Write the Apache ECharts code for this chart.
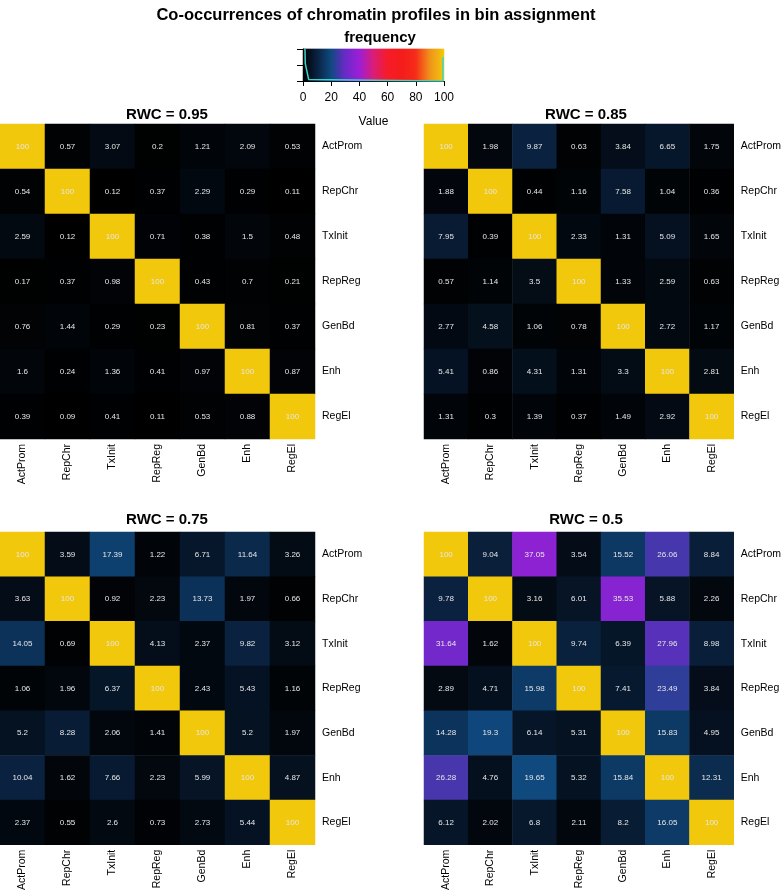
<!DOCTYPE html>
<html>
<head>
<meta charset="utf-8">
<script src="https://cdn.jsdelivr.net/npm/echarts@6/dist/echarts.min.js"></script>
<style>html,body{margin:0;padding:0;background:#fff}#c{width:784px;height:893px}</style>
</head>
<body>
<div id="c"></div>
<script>
const profiles = ['ActProm','RepChr','TxInit','RepReg','GenBd','Enh','RegEl'];
const panelTitles = ['RWC = 0.95','RWC = 0.85','RWC = 0.75','RWC = 0.5'];
const rwc095 = [
  [100, 0.57, 3.07, 0.2, 1.21, 2.09, 0.53],
  [0.54, 100, 0.12, 0.37, 2.29, 0.29, 0.11],
  [2.59, 0.12, 100, 0.71, 0.38, 1.5, 0.48],
  [0.17, 0.37, 0.98, 100, 0.43, 0.7, 0.21],
  [0.76, 1.44, 0.29, 0.23, 100, 0.81, 0.37],
  [1.6, 0.24, 1.36, 0.41, 0.97, 100, 0.87],
  [0.39, 0.09, 0.41, 0.11, 0.53, 0.88, 100]
];
const rwc085 = [
  [100, 1.98, 9.87, 0.63, 3.84, 6.65, 1.75],
  [1.88, 100, 0.44, 1.16, 7.58, 1.04, 0.36],
  [7.95, 0.39, 100, 2.33, 1.31, 5.09, 1.65],
  [0.57, 1.14, 3.5, 100, 1.33, 2.59, 0.63],
  [2.77, 4.58, 1.06, 0.78, 100, 2.72, 1.17],
  [5.41, 0.86, 4.31, 1.31, 3.3, 100, 2.81],
  [1.31, 0.3, 1.39, 0.37, 1.49, 2.92, 100]
];
const rwc075 = [
  [100, 3.59, 17.39, 1.22, 6.71, 11.64, 3.26],
  [3.63, 100, 0.92, 2.23, 13.73, 1.97, 0.66],
  [14.05, 0.69, 100, 4.13, 2.37, 9.82, 3.12],
  [1.06, 1.96, 6.37, 100, 2.43, 5.43, 1.16],
  [5.2, 8.28, 2.06, 1.41, 100, 5.2, 1.97],
  [10.04, 1.62, 7.66, 2.23, 5.99, 100, 4.87],
  [2.37, 0.55, 2.6, 0.73, 2.73, 5.44, 100]
];
const rwc050 = [
  [100, 9.04, 37.05, 3.54, 15.52, 26.06, 8.84],
  [9.78, 100, 3.16, 6.01, 35.53, 5.88, 2.26],
  [31.64, 1.62, 100, 9.74, 6.39, 27.96, 8.98],
  [2.89, 4.71, 15.98, 100, 7.41, 23.49, 3.84],
  [14.28, 19.3, 6.14, 5.31, 100, 15.83, 4.95],
  [26.28, 4.76, 19.65, 5.32, 15.84, 100, 12.31],
  [6.12, 2.02, 6.8, 2.11, 8.2, 16.05, 100]
];
const keyTicks = [0, 20, 40, 60, 80, 100];
const keyHistX = [1.4, 1.6, 2.8, 4.0, 5.0, 99.2, 99.2, 100];
const keyHistY = [1.0, 0.55, 0.3, 0.05, 0.0, 0.0, 0.72, 0.72];

const palette = ['#000000','#0a2240','#0f4a80','#6a2ac8','#9b1fd6','#d81f7a','#f51d2a','#f51c1c','#f52c1a','#f0921c','#f2c80c'];
const FONT = '"Liberation Sans", Arial, Helvetica, sans-serif';

const chart = echarts.init(document.getElementById('c'), null, {renderer: 'canvas'});

const matrices = [rwc095, rwc085, rwc075, rwc050];
const gridPos = [
  {left: 0, top: 124, width: 315, height: 315},
  {left: 424, top: 124, width: 315, height: 315},
  {left: 0, top: 532, width: 315, height: 315},
  {left: 424, top: 532, width: 315, height: 315}
];
const titlePos = [
  {left: 162, top: 102}, {left: 581, top: 102}, {left: 162, top: 507}, {left: 581, top: 507}
];

const grids = [], xAxes = [], yAxes = [], series = [], titles = [];
titles.push({text: 'Co-occurrences of chromatin profiles in bin assignment', left: 371, top: 2, textAlign: 'center',
  textStyle: {fontFamily: FONT, fontSize: 16.5, fontWeight: 'bold', color: '#000'}});
titles.push({text: 'frequency', left: 375, top: 25, textAlign: 'center',
  textStyle: {fontFamily: FONT, fontSize: 15, fontWeight: 'bold', color: '#000'}});

matrices.forEach((m, k) => {
  grids.push(gridPos[k]);
  xAxes.push({type: 'category', gridIndex: k, data: profiles, position: 'bottom',
    axisLine: {show: false}, axisTick: {show: false}, splitLine: {show: false},
    axisLabel: {rotate: 90, margin: 5, fontFamily: FONT, fontSize: 10.5, color: '#000'}});
  yAxes.push({type: 'category', gridIndex: k, data: profiles, position: 'right', inverse: true,
    axisLine: {show: false}, axisTick: {show: false}, splitLine: {show: false},
    axisLabel: {margin: 7, fontFamily: FONT, fontSize: 10.5, color: '#000'}});
  const data = [];
  m.forEach((row, r) => row.forEach((v, c) => data.push([c, r, v])));
  series.push({type: 'heatmap', xAxisIndex: k, yAxisIndex: k, data: data,
    itemStyle: {borderWidth: 0},
    label: {show: true, color: '#e6e6e6', fontFamily: FONT, fontSize: 8,
      formatter: p => String(p.value[2])},
    emphasis: {disabled: true}});
  titles.push({text: panelTitles[k], left: titlePos[k].left, top: titlePos[k].top, textAlign: 'center',
    textStyle: {fontFamily: FONT, fontSize: 15, fontWeight: 'bold', color: '#000'}});
});

// colour key
const keyGrid = 4;
grids.push({left: 303, top: 49, width: 141, height: 32});
const keyCats = [];
const keyData = [];
for (let i = 0; i < 141; i++) { keyCats.push(i); keyData.push([i, 0, (i + 0.5) / 141 * 100]); }
xAxes.push({type: 'category', gridIndex: keyGrid, data: keyCats, show: false});
yAxes.push({type: 'category', gridIndex: keyGrid, data: ['k'], show: false});
xAxes.push({type: 'value', gridIndex: keyGrid, min: 0, max: 100, interval: 20, position: 'bottom',
  name: 'Value', nameLocation: 'middle', nameGap: 35,
  nameTextStyle: {fontFamily: FONT, fontSize: 12, color: '#000'},
  axisLine: {show: true, lineStyle: {color: '#000', width: 1}},
  axisTick: {show: true, length: 5, lineStyle: {color: '#000'}},
  splitLine: {show: false},
  axisLabel: {margin: 11, fontFamily: FONT, fontSize: 12, color: '#000'}});
yAxes.push({type: 'value', gridIndex: keyGrid, min: 0, max: 1, interval: 0.5, position: 'left',
  axisLine: {show: true, lineStyle: {color: '#000', width: 1}},
  axisTick: {show: true, length: 6, lineStyle: {color: '#000'}},
  axisLabel: {show: false}, splitLine: {show: false}});
series.push({type: 'heatmap', xAxisIndex: 4, yAxisIndex: 4, data: keyData, itemStyle: {borderWidth: 0}, emphasis: {disabled: true}});
series.push({type: 'line', xAxisIndex: 5, yAxisIndex: 5, showSymbol: false, symbol: 'none',
  data: keyHistX.map((x, i) => [x, keyHistY[i]]),
  lineStyle: {color: '#3ad6cc', width: 1.5}, z: 5});

chart.setOption({
  animation: false,
  backgroundColor: '#fff',
  title: titles,
  grid: grids,
  xAxis: xAxes,
  yAxis: yAxes,
  visualMap: {type: 'continuous', show: false, min: 0, max: 100, dimension: 2,
    seriesIndex: [0, 1, 2, 3, 4], inRange: {color: palette}},
  series: series
});
</script>
</body>
</html>
